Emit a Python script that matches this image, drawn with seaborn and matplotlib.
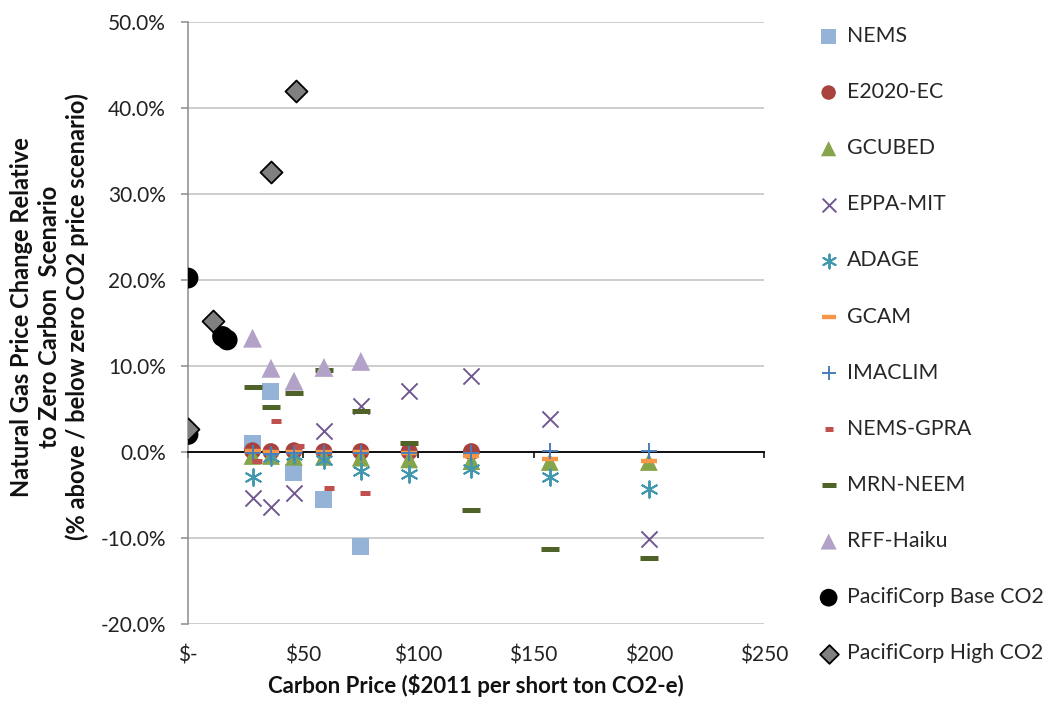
import numpy as np
import pandas as pd
import seaborn as sns
import matplotlib.pyplot as plt
from matplotlib.ticker import FuncFormatter

sns.set_theme(style="white")
plt.rcParams['font.family'] = ['Lato', 'DejaVu Sans']

# Carbon prices ($2011 per short ton CO2-e)
prices = [28, 36, 46, 59, 75, 96, 123, 157, 200]
gpra_prices = [30, 38, 48, 61, 77]
base_prices = [0, 0, 15, 17]
high_prices = [0, 11, 36, 47]

# Natural gas price change (%) per model
nems = [1.0, 7.0, -2.4, -5.6, -11.0]
e2020 = [0.1, 0.0, 0.1, 0.0, 0.0, 0.0, 0.0]
gcubed = [-0.5, -0.5, -0.6, -0.6, -0.7, -0.9, -1.1, -1.2, -1.2]
eppa = [-5.4, -6.5, -4.8, 2.4, 5.3, 7.1, 8.8, 3.8, -10.2]
adage = [-2.9, -0.6, -0.4, -1.0, -2.2, -2.6, -2.0, -3.0, -4.3]
gcam = [0.1, 0.0, 0.0, 0.0, 0.0, -0.2, -0.5, -0.9, -1.1]
imaclim = [-0.2, -0.3, -0.2, -0.2, -0.2, -0.1, -0.2, 0.1, 0.1]
gpra = [-1.1, 3.6, 0.6, -4.2, -4.8]
mrn = [7.5, 5.2, 6.8, 9.5, 4.7, 1.0, -6.8, -11.3, -12.4]
rff = [13.2, 9.7, 8.2, 9.8, 10.5]
base = [20.2, 2.0, 13.4, 13.0]
high = [2.6, 15.2, 32.6, 42.0]

# (label, x, y, marker, size, face colour, edge colour, line width)
series = [
    ("NEMS", prices[:5], nems, "s", 150, "#95B3D7", "none", 0),
    ("E2020-EC", prices[:7], e2020, "o", 150, "#A8423F", "none", 0),
    ("GCUBED", prices, gcubed, "^", 165, "#86A44A", "none", 0),
    ("EPPA-MIT", prices, eppa, "x", 135, "#71588F", None, 1.4),
    ("ADAGE", prices, adage, (6, 2, 0), 140, "#4198AF", None, 1.4),
    ("GCAM", prices, gcam, "_", 130, "#F79646", None, 3.2),
    ("IMACLIM", prices, imaclim, "+", 140, "#4A7EBB", None, 1.4),
    ("NEMS-GPRA", gpra_prices, gpra, "_", 55, "#C0504D", None, 3.6),
    ("MRN-NEEM", prices, mrn, "_", 150, "#4F6228", None, 3.6),
    ("RFF-Haiku", prices[:5], rff, "^", 185, "#B3A2C7", "none", 0),
    ("PacifiCorp Base CO2", base_prices, base, "o", 225, "black", "none", 0),
    ("PacifiCorp High CO2", high_prices, high, "D", 125, "#808080", "black", 1.3),
]

fig = plt.figure(figsize=(10.52, 7.01), dpi=100)
ax = fig.add_axes([188 / 1052, 1 - 623.5 / 701, 576 / 1052, 601.5 / 701])

for i, (name, xs, ys, mk, size, fc, ec, lw) in enumerate(series):
    if ec is None:
        sns.scatterplot(x=xs, y=ys, ax=ax, marker=mk, s=size, color=fc,
                        linewidth=lw, label=name, zorder=3 + i * 0.01)
    else:
        sns.scatterplot(x=xs, y=ys, ax=ax, marker=mk, s=size, color=fc,
                        edgecolor=ec, linewidth=lw, label=name, zorder=3 + i * 0.01)

ax.set_xlim(0, 250)
ax.set_ylim(-20, 50)
ax.set_xticks(np.arange(0, 251, 50))
ax.set_yticks(np.arange(-20, 51, 10))
ax.yaxis.set_major_formatter(FuncFormatter(lambda v, _: f"{v:.1f}%"))

ax.yaxis.grid(True, color="#C0C0C0", lw=1.1)
ax.set_axisbelow(True)
for s in ["top", "right"]:
    ax.spines[s].set_visible(False)
ax.spines["left"].set_color("#8C8C8C")
ax.spines["left"].set_linewidth(1.1)
ax.spines["bottom"].set_position(("data", 0))
ax.spines["bottom"].set_color("black")
ax.spines["bottom"].set_linewidth(1.3)
ax.spines["bottom"].set_zorder(2.6)
ax.tick_params(axis="x", bottom=True, direction="out", length=4, width=1.1,
               color="black", labelbottom=False)
ax.tick_params(axis="y", left=True, direction="out", length=5, width=1.1,
               color="#8C8C8C", labelsize=15, pad=11, labelcolor="#222222")

sec = ax.secondary_xaxis("bottom")
sec.set_xticks(np.arange(0, 251, 50))
sec.xaxis.set_major_formatter(FuncFormatter(lambda v, _: r"\$-" if v == 0 else rf"\${v:.0f}"))
sec.tick_params(length=0, pad=16, labelsize=15, labelcolor="#222222")
sec.spines["bottom"].set_visible(False)
sec.set_xlabel(r"Carbon Price (\$2011 per short ton CO2-e)", fontsize=16,
               fontweight="bold", labelpad=6, color="#111111")

ax.set_ylabel("Natural Gas Price Change Relative\nto Zero Carbon  Scenario\n"
              "(% above / below zero CO2 price scenario)",
              fontsize=17, fontweight="bold", va="center", linespacing=1.25,
              color="#111111")
ax.yaxis.set_label_coords(-0.24, 0.51)

ax.legend(loc="upper left", bbox_to_anchor=(818 / 1052, 1 - 26 / 701),
          bbox_transform=fig.transFigure, frameon=False, fontsize=15.3,
          labelspacing=1.70, handlelength=1.0, handletextpad=0.35,
          borderaxespad=0, borderpad=0, scatterpoints=1, markerscale=0.85)

fig.savefig("out.png", dpi=100)
